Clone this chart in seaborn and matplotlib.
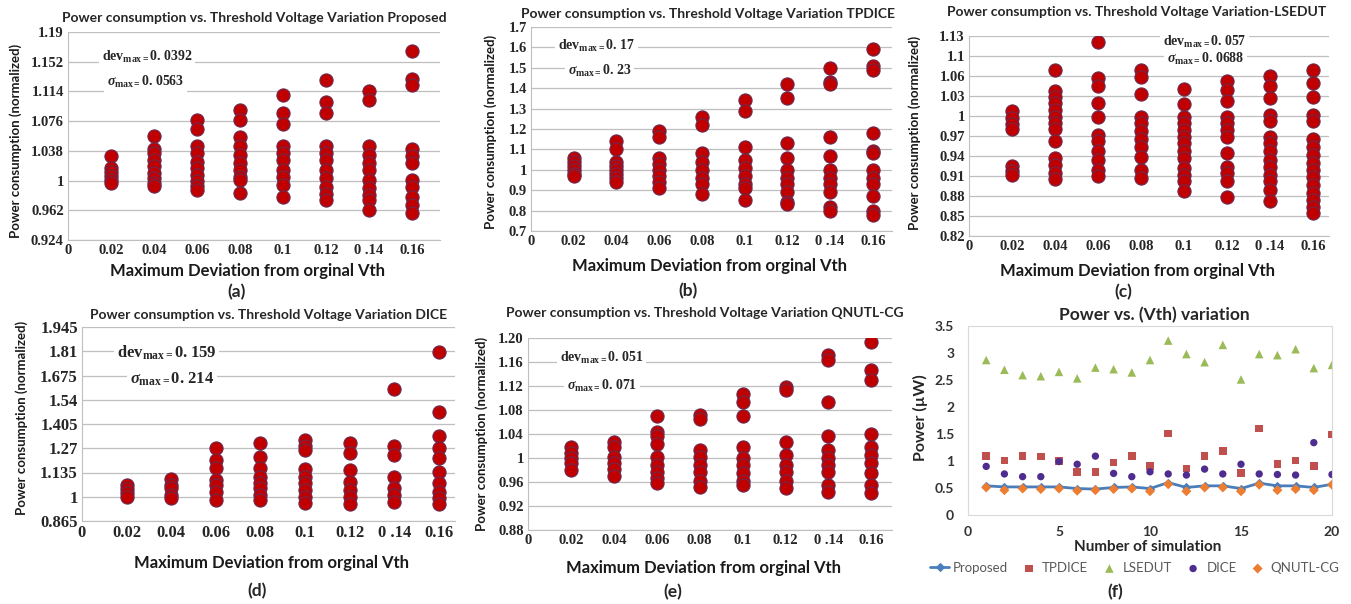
import pandas as pd
import seaborn as sns
import matplotlib.pyplot as plt

sns.set_style("white")
plt.rcParams["font.family"] = ["Lato", "DejaVu Sans"]
plt.rcParams["mathtext.fontset"] = "custom"
plt.rcParams["mathtext.rm"] = "Liberation Serif:bold"
plt.rcParams["mathtext.it"] = "Liberation Serif:bold:italic"
plt.rcParams["mathtext.bf"] = "Liberation Serif:bold"

# x categories shared by panels (a)-(e)
deviation = [0.02, 0.04, 0.06, 0.08, 0.1, 0.12, 0.14, 0.16]
x_ticks = [0, 0.02, 0.04, 0.06, 0.08, 0.1, 0.12, 0.14, 0.16]
x_ticklabels = ["0", "0.02", "0.04", "0.06", "0.08", "0.1", "0.12", "0 .14", "0.16"]

# (a) Proposed - one list per deviation
proposed_pts = [
    [1.032, 1.016, 1.011, 1.006, 1.001, 0.997],
    [1.057, 1.041, 1.035, 1.026, 1.018, 1.010, 1.003, 0.997, 0.993],
    [1.077, 1.066, 1.044, 1.035, 1.024, 1.016, 1.007, 0.999, 0.993, 0.988],
    [1.090, 1.077, 1.056, 1.044, 1.033, 1.022, 1.013, 1.005, 1.001, 0.984],
    [1.109, 1.087, 1.072, 1.044, 1.035, 1.026, 1.014, 1.005, 0.994, 0.979],
    [1.128, 1.101, 1.087, 1.044, 1.035, 1.026, 1.014, 1.003, 0.992, 0.983, 0.975],
    [1.115, 1.103, 1.044, 1.033, 1.022, 1.014, 1.001, 0.990, 0.981, 0.975, 0.962],
    [1.166, 1.130, 1.122, 1.041, 1.031, 1.022, 1.001, 0.992, 0.979, 0.969, 0.958],
]
proposed_yticks = [0.924, 0.962, 1.0, 1.038, 1.076, 1.114, 1.152, 1.19]
proposed_ylabels = ["0.924", "0.962", "1", "1.038", "1.076", "1.114", "1.152", "1.19"]

# (b) TPDICE
tpdice_pts = [
    [1.06, 1.04, 1.02, 1.0, 0.98, 0.97],
    [1.14, 1.10, 1.04, 1.02, 1.0, 0.98, 0.96, 0.94],
    [1.19, 1.16, 1.06, 1.03, 1.0, 0.97, 0.94, 0.91],
    [1.26, 1.22, 1.08, 1.04, 1.0, 0.96, 0.93, 0.88],
    [1.34, 1.29, 1.11, 1.05, 1.01, 0.97, 0.93, 0.91, 0.85],
    [1.42, 1.35, 1.13, 1.06, 1.0, 0.96, 0.93, 0.89, 0.84, 0.83],
    [1.50, 1.43, 1.42, 1.16, 1.07, 1.0, 0.96, 0.93, 0.89, 0.82, 0.80],
    [1.59, 1.51, 1.49, 1.18, 1.09, 1.08, 1.0, 0.96, 0.93, 0.87, 0.80, 0.78],
]
tpdice_yticks = [0.7, 0.8, 0.9, 1.0, 1.1, 1.2, 1.3, 1.4, 1.5, 1.6, 1.7]
tpdice_ylabels = ["0.7", "0.8", "0.9", "1", "1.1", "1.2", "1.3", "1.4", "1.5", "1.6", "1.7"]

# (c) LSEDUT
lsedut_pts = [
    [1.008, 0.997, 0.988, 0.981, 0.925, 0.918, 0.911],
    [1.069, 1.038, 1.029, 1.019, 1.009, 0.999, 0.989, 0.980, 0.962, 0.937, 0.927, 0.915, 0.905],
    [1.111, 1.057, 1.045, 1.019, 0.999, 0.972, 0.962, 0.947, 0.934, 0.919, 0.910],
    [1.069, 1.058, 1.033, 0.999, 0.989, 0.978, 0.965, 0.954, 0.939, 0.919, 0.907],
    [1.041, 1.018, 0.999, 0.989, 0.979, 0.969, 0.959, 0.947, 0.937, 0.922, 0.912, 0.902, 0.887],
    [1.052, 1.039, 1.023, 0.999, 0.989, 0.979, 0.969, 0.944, 0.924, 0.914, 0.902, 0.879],
    [1.060, 1.045, 1.027, 1.002, 0.992, 0.969, 0.959, 0.947, 0.934, 0.924, 0.912, 0.902, 0.889, 0.872],
    [1.069, 1.050, 1.029, 1.002, 0.993, 0.965, 0.954, 0.942, 0.929, 0.919, 0.909, 0.897, 0.884,
     0.874, 0.864, 0.854],
]
lsedut_yticks = [0.82, 0.85, 0.88, 0.91, 0.94, 0.97, 1.0, 1.03, 1.06, 1.09, 1.12]
lsedut_ylabels = ["0.82", "0.85", "0.88", "0.91", "0.94", "0.97", "1", "1.03", "1.06", "1.1", "1.13"]

# (d) DICE
dice_pts = [
    [1.065, 1.041, 1.019, 0.997],
    [1.099, 1.065, 1.047, 1.010, 0.991],
    [1.273, 1.204, 1.158, 1.093, 1.065, 1.028, 0.982],
    [1.301, 1.223, 1.158, 1.112, 1.075, 1.047, 1.010, 0.982],
    [1.315, 1.284, 1.260, 1.154, 1.112, 1.075, 1.038, 1.001, 0.964],
    [1.301, 1.241, 1.149, 1.084, 1.038, 1.001, 0.960],
    [1.599, 1.284, 1.232, 1.112, 1.047, 1.010, 0.973],
    [1.806, 1.473, 1.338, 1.273, 1.214, 1.140, 1.075, 1.028, 0.991, 0.960],
]
dice_yticks = [0.865, 1.0, 1.135, 1.27, 1.405, 1.54, 1.675, 1.81, 1.945]
dice_ylabels = ["0.865", "1", "1.135", "1.27", "1.405", "1.54", "1.675", "1.81", "1.945"]

# (e) QNUTL-CG
qnutl_pts = [
    [1.019, 1.008, 1.0, 0.991, 0.98],
    [1.026, 1.019, 1.002, 0.991, 0.981, 0.970],
    [1.070, 1.043, 1.037, 1.024, 1.002, 0.989, 0.977, 0.966, 0.959],
    [1.072, 1.065, 1.014, 1.002, 0.989, 0.977, 0.961, 0.952],
    [1.107, 1.093, 1.070, 1.019, 1.0, 0.989, 0.975, 0.961, 0.955],
    [1.119, 1.114, 1.026, 1.005, 0.989, 0.977, 0.961, 0.950],
    [1.172, 1.163, 1.093, 1.036, 1.014, 1.0, 0.989, 0.977, 0.955, 0.944],
    [1.194, 1.147, 1.130, 1.040, 1.019, 1.005, 0.991, 0.975, 0.955, 0.941],
]
qnutl_yticks = [0.88, 0.92, 0.96, 1.0, 1.04, 1.08, 1.12, 1.16, 1.20]
qnutl_ylabels = ["0.88", "0.92", "0.96", "1", "1.04", "1.08", "1.12", "1.16", "1.20"]

# (f) power per simulation run (uW)
sim_run = [1, 2, 3, 4, 5, 6, 7, 8, 9, 10, 11, 12, 13, 14, 15, 16, 17, 18, 19, 20]
f_proposed = [0.54, 0.52, 0.52, 0.52, 0.52, 0.49, 0.48, 0.51, 0.52, 0.49,
              0.60, 0.51, 0.54, 0.54, 0.49, 0.59, 0.54, 0.54, 0.51, 0.57]
f_tpdice = [1.09, 1.01, 1.09, 1.08, 1.00, 0.80, 0.80, 0.97, 1.09, 0.91,
            1.51, 0.86, 1.09, 1.19, 0.78, 1.60, 0.94, 1.01, 0.91, 1.49]
f_lsedut = [2.87, 2.69, 2.59, 2.57, 2.65, 2.53, 2.73, 2.70, 2.64, 2.87,
            3.23, 2.98, 2.83, 3.15, 2.51, 2.98, 2.96, 3.07, 2.72, 2.78]
f_dice = [0.90, 0.76, 0.71, 0.71, 0.99, 0.94, 1.09, 0.77, 0.71, 0.80,
          0.76, 0.74, 0.85, 0.76, 0.94, 0.76, 0.75, 0.74, 1.34, 0.75]
f_qnutl = [0.51, 0.46, 0.49, 0.48, 0.49, 0.45, 0.46, 0.48, 0.49, 0.44,
           0.57, 0.44, 0.51, 0.51, 0.44, 0.56, 0.46, 0.48, 0.46, 0.56]
f_yticks = [0, 0.5, 1, 1.5, 2, 2.5, 3, 3.5]
f_ylabels = ["0", "0.5", "1", "1.5", "2", "2.5", "3", "3.5"]

W, H = 1351, 604
fig = plt.figure(figsize=(W / 100, H / 100), dpi=100)


def box(left, top, right, bottom):
    return fig.add_axes([left / W, 1 - bottom / H, (right - left) / W, (bottom - top) / H])


def put(x, y, s, **kw):
    fig.text(x / W, 1 - y / H, s, **kw)


def vth_panel(ax, cols, yticks, ylabels, xmax):
    rows = [(d, v) for d, vals in zip(deviation, cols) for v in vals]
    df = pd.DataFrame(rows, columns=["dev", "power"])
    ax.grid(axis="y", color="#bfbfbf", lw=0.9)
    ax.set_axisbelow(True)
    sns.scatterplot(data=df, x="dev", y="power", ax=ax, s=90, color="#c00000",
                    edgecolor="#6a2a50", linewidth=0.8, legend=False, zorder=3)
    ax.set_xlim(0, xmax)
    ax.set_ylim(yticks[0], yticks[-1])
    ax.set_xticks(x_ticks)
    ax.set_xticklabels(x_ticklabels)
    ax.set_yticks(yticks)
    ax.set_yticklabels(ylabels)
    ax.tick_params(length=0, pad=3, labelsize=10.5)
    for lab in ax.get_xticklabels() + ax.get_yticklabels():
        lab.set_fontfamily("Liberation Serif")
        lab.set_fontweight("bold")
    ax.set_xlabel("")
    ax.set_ylabel("")
    for s in ["top", "right"]:
        ax.spines[s].set_visible(False)
    for s in ["left", "bottom"]:
        ax.spines[s].set_color("#bfbfbf")


def note(x, y, s, size=10):
    put(x, y, s, ha="left", va="center", fontsize=size, fontfamily="Liberation Serif",
        fontweight="bold", bbox=dict(fc="white", ec="none", pad=2))


title_kw = dict(ha="center", va="center", fontsize=10, fontweight="bold")
xlab_kw = dict(ha="center", va="center", fontsize=12, fontweight="bold", color="#1a1a1a")
ylab_kw = dict(ha="center", va="center", fontsize=9.5, fontweight="bold", rotation=90, color="#1a1a1a")
let_kw = dict(ha="center", va="center", fontsize=12.5, fontweight="bold")

# (a)
ax = box(68, 32, 440, 240)
vth_panel(ax, proposed_pts, proposed_yticks, proposed_ylabels, 0.173)
put(254, 18, "Power consumption vs. Threshold Voltage Variation Proposed", **title_kw)
put(247, 271, "Maximum Deviation from orginal Vth", **xlab_kw)
put(16, 141, "Power consumption (normalized)", **ylab_kw)
put(237, 292, "(a)", **let_kw)
note(102, 57, r"dev$_{\rm max{=}}$0. 0392")
note(107, 82, r"$\sigma_{\rm max{=}}$0. 0563")

# (b)
ax = box(531, 27, 892, 231)
vth_panel(ax, tpdice_pts, tpdice_yticks, tpdice_ylabels, 0.169)
put(708, 14, "Power consumption vs. Threshold Voltage Variation TPDICE", **title_kw)
put(709, 266, "Maximum Deviation from orginal Vth", **xlab_kw)
put(491, 132, "Power consumption (normalized)", **ylab_kw)
put(688, 291, "(b)", **let_kw)
note(558, 46, r"dev$_{\rm max{=}}$0. 17")
note(568, 71, r"$\sigma_{\rm max{=}}$0. 23")

# (c)
ax = box(969, 36, 1329, 236)
vth_panel(ax, lsedut_pts, lsedut_yticks, lsedut_ylabels, 0.1675)
put(1137, 12, "Power consumption vs. Threshold Voltage Variation-LSEDUT", **title_kw)
put(1138, 271, "Maximum Deviation from orginal Vth", **xlab_kw)
put(915, 133, "Power consumption (normalized)", **ylab_kw)
put(1123, 292, "(c)", **let_kw)
note(1163, 42, r"dev$_{\rm max{=}}$0. 057")
note(1167, 59, r"$\sigma_{\rm max{=}}$0. 0688")

# (d)
ax = box(82, 327, 455, 521)
vth_panel(ax, dice_pts, dice_yticks, dice_ylabels, 0.1673)
for lab in ax.get_yticklabels() + ax.get_xticklabels():
    lab.set_fontsize(12)
put(269, 315, "Power consumption vs. Threshold Voltage Variation DICE", **title_kw)
put(272, 563, "Maximum Deviation from orginal Vth", **xlab_kw)
put(22, 418, "Power consumption (normalized)", **ylab_kw)
put(257, 591, "(d)", **let_kw)
note(117, 353, r"dev$_{\rm max{=}}$0. 159", size=12)
note(130, 379, r"$\sigma_{\rm max{=}}$0. 214", size=12)

# (e)
ax = box(528, 338, 892, 530)
vth_panel(ax, qnutl_pts, qnutl_yticks, qnutl_ylabels, 0.1696)
put(705, 313, "Power consumption vs. Threshold Voltage Variation QNUTL-CG", **title_kw)
put(703, 568, "Maximum Deviation from orginal Vth", **xlab_kw)
put(482, 434, "Power consumption (normalized)", **ylab_kw)
put(673, 592, "(e)", **let_kw)
note(560, 358, r"dev$_{\rm max{=}}$0. 051")
note(567, 386, r"$\sigma_{\rm max{=}}$0. 071")

# (f)
ax = box(968, 326, 1332, 515)
sns.lineplot(x=sim_run, y=f_proposed, ax=ax, color="#4a7ebb", lw=2, marker="D",
             markersize=4, markeredgecolor="#4a7ebb", label="Proposed")
sns.scatterplot(x=sim_run, y=f_tpdice, ax=ax, marker="s", s=30, color="#c0504d",
                edgecolor="none", label="TPDICE")
sns.scatterplot(x=sim_run, y=f_lsedut, ax=ax, marker="^", s=38, color="#9bbb59",
                edgecolor="none", label="LSEDUT")
sns.scatterplot(x=sim_run, y=f_dice, ax=ax, marker="o", s=28, color="#4f2d8f",
                edgecolor="none", label="DICE")
sns.scatterplot(x=sim_run, y=f_qnutl, ax=ax, marker="D", s=26, color="#ed7d31",
                edgecolor="none", label="QNUTL-CG", zorder=4)
handles, labels = ax.get_legend_handles_labels()
if ax.get_legend() is not None:
    ax.get_legend().remove()
ax.set_xlim(0, 20)
ax.set_ylim(0, 3.5)
ax.set_xticks([0, 5, 10, 15, 20])
ax.set_yticks(f_yticks)
ax.set_yticklabels(f_ylabels)
ax.tick_params(length=0, labelsize=10, labelcolor="#333333")
ax.tick_params(axis="x", pad=8)
ax.tick_params(axis="y", pad=10)
for lab in ax.get_xticklabels() + ax.get_yticklabels():
    lab.set_fontweight("bold")
for s in ax.spines.values():
    s.set_color("#d9d9d9")
ax.set_xlabel("")
ax.set_ylabel("")
put(1154, 315, "Power vs. (Vth) variation", ha="center", va="center", fontsize=12.5, fontweight="bold")
put(1148, 547, "Number of simulation", ha="center", va="center", fontsize=11, fontweight="bold")
put(920, 418, "Power (\u00b5W)", ha="center", va="center", fontsize=11.5, fontweight="bold", rotation=90)
put(1115, 592, "(f)", **let_kw)
order = ["Proposed", "TPDICE", "LSEDUT", "DICE", "QNUTL-CG"]
hmap = dict(zip(labels, handles))
leg = fig.legend([hmap[k] for k in order], order, loc="center",
                 bbox_to_anchor=(1135 / W, 1 - 568 / H), ncol=5, frameon=False,
                 fontsize=9.5, handlelength=1.4, columnspacing=0.9, handletextpad=0.3)
for t in leg.get_texts():
    t.set_color("#595959")

fig.savefig("out.png", dpi=100)
